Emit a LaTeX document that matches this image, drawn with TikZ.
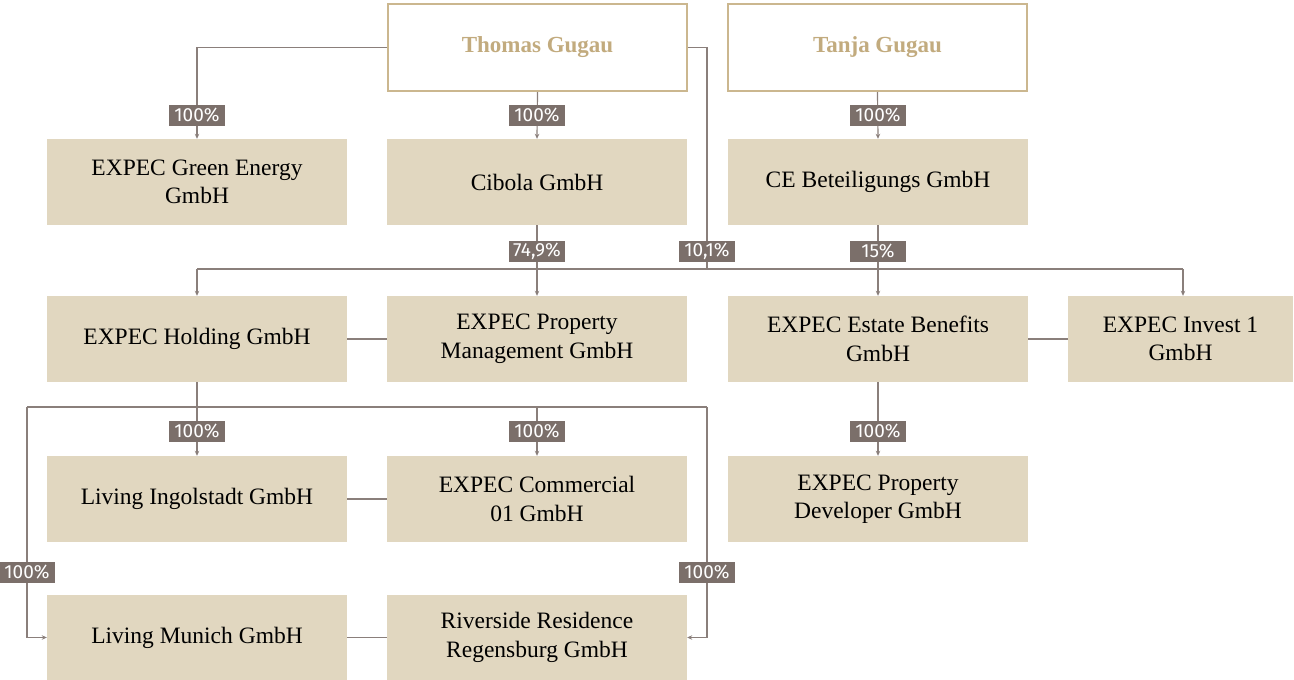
\documentclass[tikz,border=0pt]{standalone}
\usepackage{fontspec}
\setmainfont{Liberation Serif}
\newfontfamily\pctfont{Fira Sans}
\usetikzlibrary{arrows.meta}
\definecolor{boxfill}{HTML}{E1D7C0}
\definecolor{tanline}{HTML}{CBB78F}
\definecolor{tantext}{HTML}{C2AB7E}
\definecolor{pctfill}{HTML}{7B6F6A}
\definecolor{conn}{HTML}{8A7F7B}
\tikzset{
  cbox/.style={rectangle, fill=boxfill, minimum width=300pt, minimum height=86pt,
    align=center, inner sep=0pt, font=\fontsize{23.5}{28.5}\selectfont, text=black},
  owner/.style={rectangle, draw=tanline, line width=2pt, fill=white,
    minimum width=299pt, minimum height=87pt, inner sep=0pt,
    font=\fontsize{23}{28}\selectfont\bfseries, text=tantext},
  pct/.style={rectangle, fill=pctfill, text=white, minimum width=56pt,
    minimum height=21pt, inner sep=0pt, font=\pctfont\fontsize{19}{21}\selectfont},
  cline/.style={draw=conn, line width=1.2pt},
  carr/.style={cline, -{Stealth[length=5pt,width=4.5pt]}}
}
\begin{document}
\begin{tikzpicture}[x=1pt,y=-1pt]
\useasboundingbox (0,0) rectangle (1294,680);
% owners
\node[owner] (thomas) at (537.5,47.5) {Thomas Gugau};
\node[owner] (tanja) at (877.5,47.5) {Tanja Gugau};
% row 1
\node[cbox] (green) at (197,182) {EXPEC Green Energy\\GmbH};
\node[cbox] (cibola) at (537,182) {Cibola GmbH};
\node[cbox] (ce) at (878,182) {CE Beteiligungs GmbH};
% row 2
\node[cbox] (holding) at (197,339) {EXPEC Holding GmbH};
\node[cbox] (pm) at (537,339) {EXPEC Property\\Management GmbH};
\node[cbox] (estate) at (878,339) {EXPEC Estate Benefits\\GmbH};
\node[cbox, minimum width=225pt] (invest) at (1180.5,339) {EXPEC Invest 1\\GmbH};
% row 3
\node[cbox] (ingol) at (197,499) {Living Ingolstadt GmbH};
\node[cbox] (commercial) at (537,499) {EXPEC Commercial\\01 GmbH};
\node[cbox] (developer) at (878,499) {EXPEC Property\\Developer GmbH};
% row 4
\node[cbox, minimum height=85pt] (munich) at (197,637.5) {Living Munich GmbH};
\node[cbox, minimum height=85pt] (riverside) at (537,637.5) {Riverside Residence\\Regensburg GmbH};
% bus coordinates
\coordinate (b1) at (197,269);
\coordinate (bt) at (707,269);
\coordinate (b4) at (1183,269);
\coordinate (c1) at (27,407);
\coordinate (c2) at (707,407);
% connectors
\draw[carr] (thomas.west) -| (green.north);
\draw[carr] (thomas.south) -- (cibola.north);
\draw[carr] (tanja.south) -- (ce.north);
\draw[cline] (thomas.east) -| (bt);
\draw[cline] (b1) -- (b4);
\draw[carr] (b1) -- (holding.north);
\draw[carr] (cibola.south) -- (pm.north);
\draw[carr] (ce.south) -- (estate.north);
\draw[carr] (b4) -- (b4 |- invest.north);
\draw[cline] (holding.east) -- (pm.west);
\draw[cline] (estate.east) -- (invest.west);
\draw[carr] (holding.south) -- (ingol.north);
\draw[cline] (c1) -- (c2);
\draw[carr] (commercial.north |- c1) -- (commercial.north);
\draw[carr] (c1) |- (munich.west);
\draw[carr] (c2) |- (riverside.east);
\draw[carr] (estate.south) -- (developer.north);
\draw[cline] (ingol.east) -- (commercial.west);
\draw[cline] (munich.east) -- (riverside.west);
% percentage labels
\node[pct] (p1) at (197,115) {100\%};
\node[pct] (p2) at (537,115) {100\%};
\node[pct] (p3) at (878,115) {100\%};
\node[pct] (p4) at (537,251) {74,9\%};
\node[pct] (p5) at (707,251) {10,1\%};
\node[pct] (p6) at (878,251) {15\%};
\node[pct] (p7) at (197,431) {100\%};
\node[pct] (p8) at (537,431) {100\%};
\node[pct] (p9) at (878,431) {100\%};
\node[pct] (p10) at (27,572) {100\%};
\node[pct] (p11) at (707,572) {100\%};
\end{tikzpicture}
\end{document}
